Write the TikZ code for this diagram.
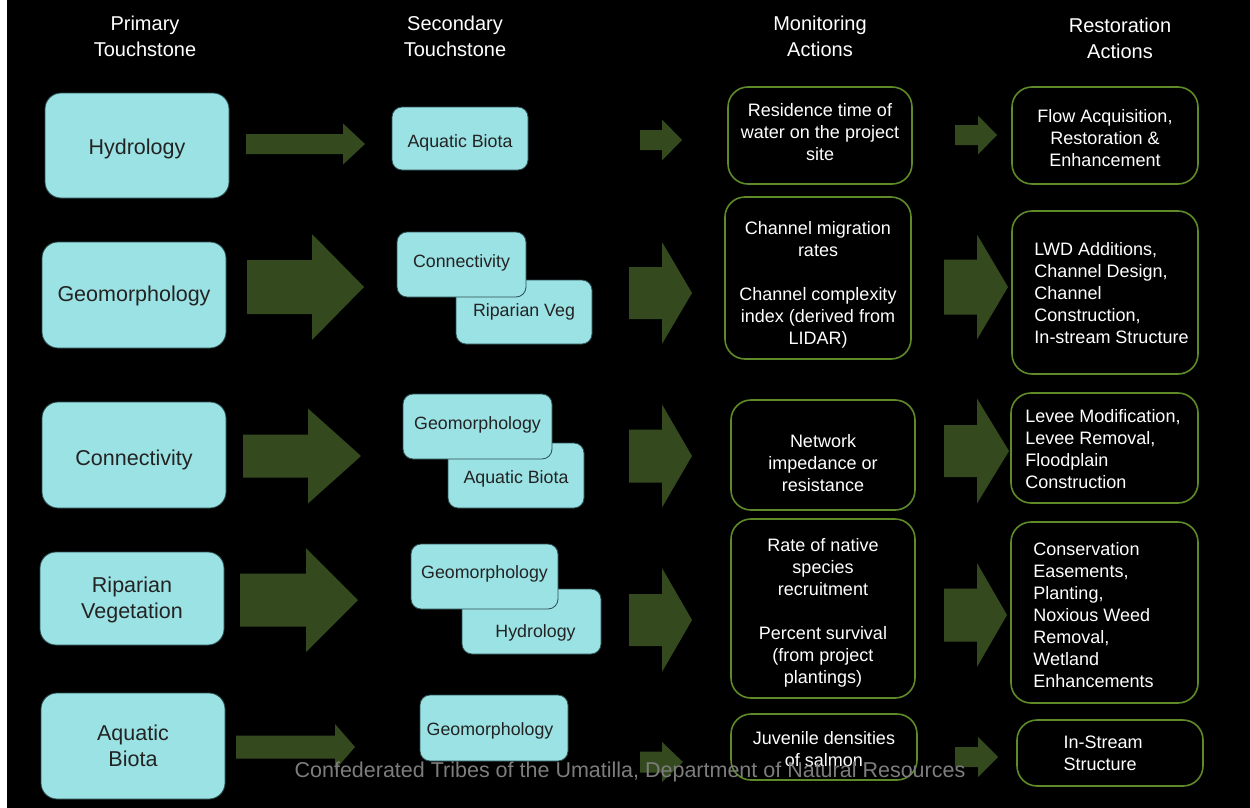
\documentclass[tikz,border=0pt]{standalone}
\usepackage{fontspec}
\setmainfont{Liberation Sans}
\definecolor{cyanfill}{RGB}{155,226,228}
\definecolor{cyanedge}{RGB}{45,78,80}
\definecolor{arrowgreen}{RGB}{52,74,30}
\definecolor{boxgreen}{RGB}{95,138,40}
\definecolor{footgray}{RGB}{125,125,125}
\definecolor{darktext}{RGB}{35,35,35}
\newcommand\blockarrow[6]{\fill[arrowgreen] (#1,{#4-#5}) -- (#2,{#4-#5}) -- (#2,{#4-#6}) -- (#3,#4) -- (#2,{#4+#6}) -- (#2,{#4+#5}) -- (#1,{#4+#5}) -- cycle;}
\newcommand\vmove[2]{\raisebox{#1}[\height][\depth]{#2}}
\newcommand\lblock[3]{\begin{tabular}{@{\hspace{#1}}l@{\hspace{#2}}}#3\end{tabular}}
\newcommand\cblock[1]{\begin{tabular}{@{}c@{}}#1\end{tabular}}
\begin{document}
\begin{tikzpicture}[x=1pt,y=-1pt,
  prim/.style={draw=cyanedge, line width=0.8pt, fill=cyanfill, rounded corners=16pt, text=darktext,
    font=\fontsize{21.5}{26}\selectfont, align=center, inner sep=0pt},
  sec/.style={draw=cyanedge, line width=0.8pt, fill=cyanfill, rounded corners=10pt, text=darktext,
    font=\fontsize{17.8}{22}\selectfont, align=center, inner sep=0pt},
  act/.style={draw=boxgreen, line width=1.6pt, fill=black, rounded corners=20pt, text=white,
    font=\fontsize{18}{22}\selectfont, align=center, inner sep=0pt},
  head/.style={text=white, font=\fontsize{20}{26}\selectfont, align=center},
  footer/.style={text=footgray, font=\fontsize{21.5}{26}\selectfont}
]
\useasboundingbox (0,0) rectangle (1250,808);
\fill[white] (0,0) rectangle (1250,808);
\fill[black] (7,0) rectangle (1250,808);

% headers
\node[head] (h1) at (145,36) {Primary\\Touchstone};
\node[head] (h2) at (455,36) {Secondary\\Touchstone};
\node[head] (h3) at (820,36) {Monitoring\\Actions};
\node[head] (h4) at (1120,38) {Restoration\\Actions};

% primary touchstones
\node[prim, minimum width=184pt, minimum height=105pt] (p1) at (137,145.5) {\vmove{-3pt}{Hydrology}};
\node[prim, minimum width=184pt, minimum height=106pt] (p2) at (134,295) {\vmove{-1pt}{Geomorphology}};
\node[prim, minimum width=184pt, minimum height=106pt] (p3) at (134,455) {\vmove{-5pt}{Connectivity}};
\node[prim, minimum width=184pt, minimum height=93pt] (p4) at (132,598.5) {\vmove{-2pt}{\cblock{Riparian\\Vegetation}}};
\node[prim, minimum width=184pt, minimum height=106pt] (p5) at (133,746) {Aquatic\\Biota};

% secondary touchstones
\node[sec, minimum width=136pt, minimum height=63pt] (s1) at (460,138.5) {\vmove{-4pt}{Aquatic Biota}};
\node[sec, minimum width=136pt, minimum height=64pt] (s2b) at (524,312) {Riparian Veg};
\node[sec, minimum width=129pt, minimum height=65pt] (s2a) at (461.5,264.5) {\vmove{2pt}{Connectivity}};
\node[sec, minimum width=136pt, minimum height=65pt] (s3b) at (516,475.5) {\vmove{-3pt}{Aquatic Biota}};
\node[sec, minimum width=149pt, minimum height=65pt] (s3a) at (477.5,426.5) {\vmove{2pt}{Geomorphology}};
\node[sec, minimum width=139pt, minimum height=65pt] (s4b) at (531.5,621.5) {\vmove{-11pt}{\hspace*{8pt}Hydrology}};
\node[sec, minimum width=147pt, minimum height=65pt] (s4a) at (484.5,576.5) {\vmove{3pt}{Geomorphology}};
\node[sec, minimum width=148pt, minimum height=66pt] (s5) at (494,728) {\vmove{-3pt}{Geomorphology\hspace*{8pt}}};

% monitoring actions
\node[act, minimum width=184pt, minimum height=97pt] (m1) at (820,135.5)
  {\vmove{1pt}{\cblock{Residence time of\\water on the project\\site}}};
\node[act, minimum width=186pt, minimum height=162pt] (m2) at (818,278)
  {\vmove{-7pt}{\cblock{Channel migration\\rates\\[22pt]Channel complexity\\index (derived from\\LIDAR)}}};
\node[act, minimum width=184pt, minimum height=110pt] (m3) at (823,455)
  {\vmove{-10pt}{\cblock{Network\\impedance or\\resistance}}};
\node[act, minimum width=184pt, minimum height=179pt] (m4) at (823,608.5)
  {\vmove{-5pt}{\cblock{Rate of native\\species\\recruitment\\[22pt]Percent survival\\(from project\\plantings)}}};
\node[act, minimum width=186pt, minimum height=66pt] (m5) at (824,747)
  {\vmove{-4pt}{\cblock{Juvenile densities\\of salmon}}};

% restoration actions
\node[act, minimum width=186pt, minimum height=97pt] (r1) at (1105,135.5)
  {\vmove{-5pt}{\cblock{Flow Acquisition,\\Restoration \&\\Enhancement}}};
\node[act, minimum width=186pt, minimum height=163pt] (r2) at (1105,292.5)
  {\vmove{-3pt}{\lblock{13pt}{0pt}{LWD Additions,\\Channel Design,\\Channel\\Construction,\\In-stream Structure}}};
\node[act, minimum width=187pt, minimum height=110pt] (r3) at (1104.5,448)
  {\vmove{-3pt}{\lblock{0pt}{3pt}{Levee Modification,\\Levee Removal,\\Floodplain\\Construction}}};
\node[act, minimum width=187pt, minimum height=181pt] (r4) at (1104.5,612.5)
  {\vmove{-5pt}{\lblock{0pt}{22pt}{Conservation\\Easements,\\Planting,\\Noxious Weed\\Removal,\\Wetland\\Enhancements}}};
\node[act, minimum width=186pt, minimum height=66pt] (r5) at (1110,753)
  {\vmove{-2pt}{\lblock{0pt}{14pt}{In-Stream\\Structure}}};

% block arrows: shaft left, head base, tip, centre y, shaft half, head half
\blockarrow{246}{343}{365}{144}{10}{20.5}
\blockarrow{247}{312}{364}{287}{27}{53}
\blockarrow{243}{308}{361}{456}{21.5}{47.5}
\blockarrow{240}{306}{358}{600}{26.5}{52}
\blockarrow{236}{335}{355}{747}{11.5}{23}

\blockarrow{640}{662}{682}{140}{10}{20.5}
\blockarrow{629}{662}{692}{293}{26}{51}
\blockarrow{629}{662}{692}{456}{26.5}{51.5}
\blockarrow{629}{662}{692}{620}{26}{52}
\blockarrow{640}{662}{683}{762}{10.5}{20}

\blockarrow{955}{978}{997}{135}{10}{19.5}
\blockarrow{944}{977}{1008}{287}{27.5}{52.5}
\blockarrow{944}{977}{1009}{451}{26}{52.5}
\blockarrow{944}{977}{1007}{615}{26.5}{52}
\blockarrow{955}{978}{998}{757}{10}{20}

% footer
\node[footer] (foot) at (630,772) {Confederated Tribes of the Umatilla, Department of Natural Resources};
\end{tikzpicture}
\end{document}
